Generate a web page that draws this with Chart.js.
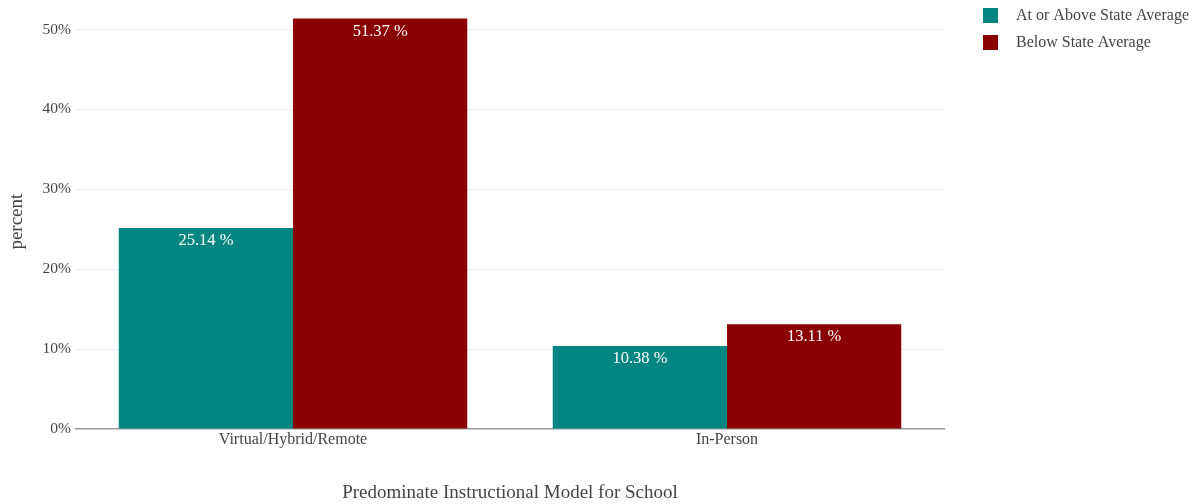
<!DOCTYPE html>
<html>
<head>
<meta charset="utf-8">
<script src="https://cdn.jsdelivr.net/npm/chart.js@4.4.1/dist/chart.umd.min.js"></script>
<style>
  html, body { margin: 0; padding: 0; background: #fff; }
  #wrap { width: 1197px; height: 504px; }
</style>
</head>
<body>
<div id="wrap"><canvas id="bars"></canvas></div>
<script>
const categories = ['Virtual/Hybrid/Remote', 'In-Person'];
const seriesNames = ['At or Above State Average', 'Below State Average'];
const aboveAvg = [25.14, 10.38];
const belowAvg = [51.37, 13.11];
const yTicks = [0, 10, 20, 30, 40, 50];

const FONT = '"Liberation Serif", "Times New Roman", serif';
const colors = ['#038582', '#8A0000'];

// white value labels just inside the top of each bar
const valueLabels = {
  id: 'valueLabels',
  afterDatasetsDraw(chart) {
    const ctx = chart.ctx;
    ctx.save();
    ctx.fillStyle = '#fff';
    ctx.font = '16.5px ' + FONT;
    ctx.textAlign = 'center';
    ctx.textBaseline = 'top';
    chart.data.datasets.forEach((ds, i) => {
      chart.getDatasetMeta(i).data.forEach((bar, j) => {
        ctx.fillText(ds.data[j].toFixed(2) + ' %', bar.x, bar.y + 4.5);
      });
    });
    ctx.restore();
  }
};

// legend block in the top right corner
const sideLegend = {
  id: 'sideLegend',
  afterDraw(chart) {
    const ctx = chart.ctx;
    ctx.save();
    ctx.font = '16px ' + FONT;
    ctx.textBaseline = 'middle';
    chart.data.datasets.forEach((ds, i) => {
      const y = 16 + i * 27;
      ctx.fillStyle = ds.backgroundColor;
      ctx.fillRect(983, y - 8, 15, 15);
      ctx.fillStyle = '#444';
      ctx.fillText(ds.label, 1016, y);
    });
    ctx.restore();
  }
};

new Chart(document.getElementById('bars'), {
  type: 'bar',
  data: {
    labels: categories,
    datasets: [
      { label: seriesNames[0], data: aboveAvg, backgroundColor: colors[0], categoryPercentage: 0.803, barPercentage: 1.0, borderWidth: 0 },
      { label: seriesNames[1], data: belowAvg, backgroundColor: colors[1], categoryPercentage: 0.803, barPercentage: 1.0, borderWidth: 0 }
    ]
  },
  options: {
    responsive: true,
    maintainAspectRatio: false,
    animation: false,
    layout: { padding: { top: 0, right: 253, bottom: 0, left: 0 } },
    plugins: {
      legend: { display: false },
      tooltip: { enabled: false }
    },
    scales: {
      x: {
        grid: { display: false, drawTicks: false },
        border: { display: true, color: '#999', width: 1.5 },
        ticks: { color: '#444', font: { family: FONT, size: 16 }, padding: 1 },
        title: { display: true, text: 'Predominate Instructional Model for School', color: '#444', font: { family: FONT, size: 19 }, padding: { top: 0, bottom: 0 } },
        afterFit: (s) => { s.height = 75; }
      },
      y: {
        min: 0,
        max: 51.9,
        afterBuildTicks: (s) => { s.ticks = yTicks.map(v => ({ value: v })); },
        grid: { color: (c) => c.tick && c.tick.value === 0 ? 'rgba(0,0,0,0)' : '#eee', drawTicks: false },
        border: { display: false },
        ticks: { color: '#444', font: { family: FONT, size: 15.5 }, padding: 5, callback: (v) => v + '%' },
        title: { display: true, text: 'percent', color: '#444', font: { family: FONT, size: 19 }, padding: { top: 6, bottom: 0 } },
        afterFit: (s) => { s.width = 76; }
      }
    }
  },
  plugins: [valueLabels, sideLegend]
});
</script>
</body>
</html>
